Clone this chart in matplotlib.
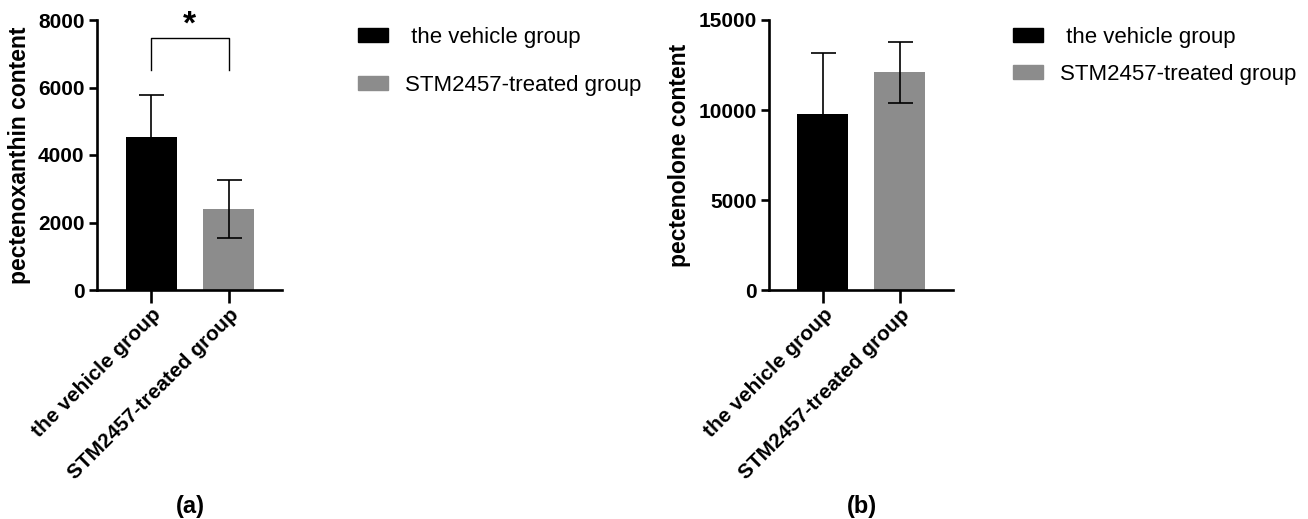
import matplotlib
matplotlib.use('Agg')
import matplotlib.pyplot as plt
from matplotlib.patches import Patch

plt.rcParams['font.family'] = ['Liberation Sans', 'DejaVu Sans']

groups = ['the vehicle group', 'STM2457-treated group']
legend_labels = [' the vehicle group', 'STM2457-treated group']
colors = ['#000000', '#8c8c8c']

xanthin_mean = [4520, 2400]
xanthin_sd = [1260, 870]
olone_mean = [9760, 12090]
olone_sd = [3430, 1690]

W, H = 1308, 519


def draw_panel(ax, means, sds, ymax, yticks, ylabel):
    x = range(len(groups))
    ax.bar(x, means, width=0.66, color=colors, zorder=2)
    ax.errorbar(x, means, yerr=sds, fmt='none', ecolor='black',
                elinewidth=1.2, capsize=9, capthick=1.2, zorder=3)
    ax.set_xlim(-0.7, 1.69)
    ax.set_ylim(0, ymax)
    ax.set_yticks(yticks)
    ax.set_xticks(list(x))
    ax.set_xticklabels(groups, rotation=45, ha='right',
                       rotation_mode='anchor', fontsize=15, fontweight='bold')
    for lab in ax.get_yticklabels():
        lab.set_fontsize(15)
        lab.set_fontweight('bold')
    ax.set_ylabel(ylabel, fontsize=16.5, fontweight='bold', labelpad=5)
    for s in ['top', 'right']:
        ax.spines[s].set_visible(False)
    for s in ['left', 'bottom']:
        ax.spines[s].set_linewidth(1.9)
    ax.tick_params(axis='y', width=1.9, length=6, pad=3)
    ax.tick_params(axis='x', width=1.9, length=9, pad=2)


fig = plt.figure(figsize=(W / 100, H / 100), dpi=100)
ax1 = fig.add_axes([97 / W, 1 - 290 / H, (282 - 97) / W, 270 / H])
ax2 = fig.add_axes([769 / W, 1 - 290 / H, (953 - 769) / W, 270 / H])

draw_panel(ax1, xanthin_mean, xanthin_sd, 8000, [0, 2000, 4000, 6000, 8000],
           'pectenoxanthin content')
draw_panel(ax2, olone_mean, olone_sd, 15000, [0, 5000, 10000, 15000],
           'pectenolone content')

# significance bracket
ax1.plot([0, 0, 1, 1], [6520, 7480, 7480, 6520], color='black', lw=1.0,
         clip_on=False)
ax1.text(0.5, 7850, '*', ha='center', va='center', fontsize=24,
         fontweight='bold', clip_on=False)

handles = [Patch(color=c) for c in colors]
fig.legend(handles, legend_labels, loc='upper left',
           bbox_to_anchor=(358 / W, 1 - 27 / H), frameon=False, fontsize=16,
           handlelength=1.35, handleheight=0.6, handletextpad=0.75,
           labelspacing=1.2, borderpad=0, borderaxespad=0)
fig.legend(handles, legend_labels, loc='upper left',
           bbox_to_anchor=(1013 / W, 1 - 27 / H), frameon=False, fontsize=16,
           handlelength=1.35, handleheight=0.6, handletextpad=0.75,
           labelspacing=0.72, borderpad=0, borderaxespad=0)

fig.text(190 / W, 1 - 506 / H, '(a)', ha='center', va='center',
         fontsize=17, fontweight='bold')
fig.text(862 / W, 1 - 506 / H, '(b)', ha='center', va='center',
         fontsize=17, fontweight='bold')

fig.savefig('out.png', dpi=100)
